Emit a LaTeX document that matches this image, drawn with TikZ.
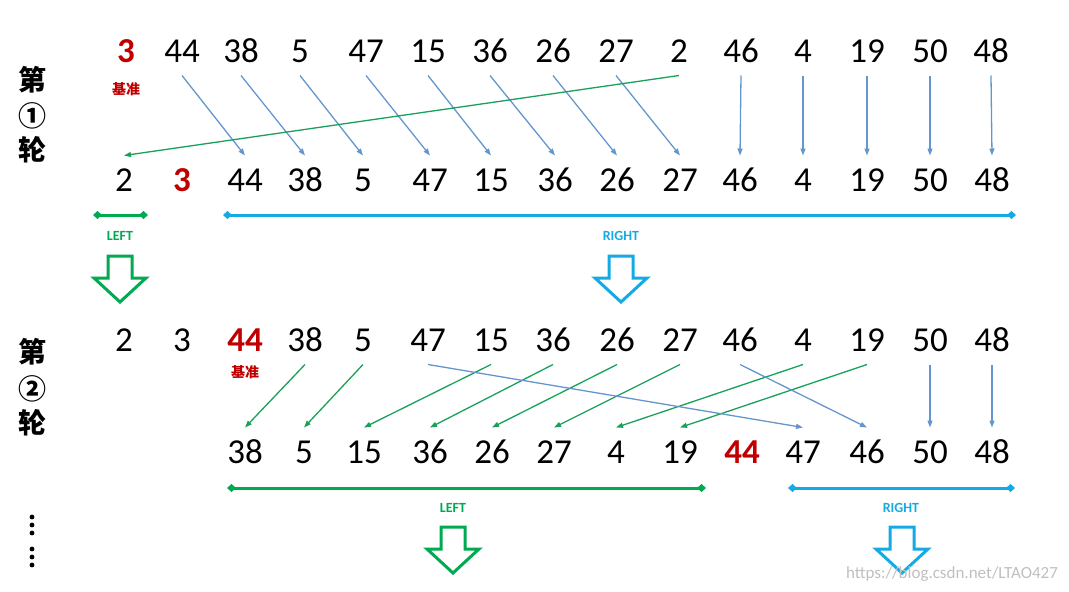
\documentclass[tikz,border=0pt]{standalone}
\usepackage{fontspec}
\setmainfont{Carlito}
\newfontfamily\cjk{Noto Sans CJK SC}
\usepackage{tikz}
\usetikzlibrary{arrows.meta}
\usetikzlibrary{positioning}
\definecolor{pivred}{RGB}{192,0,0}
\definecolor{lgreen}{RGB}{0,170,80}
\definecolor{rblue}{RGB}{20,170,230}
\definecolor{mblue}{RGB}{100,150,205}
\definecolor{mgreen}{RGB}{25,160,90}

\begin{document}
\begin{tikzpicture}[x=1pt, y=-1pt,
		n/.style = {inner sep=0pt, outer xsep=0pt, outer ysep=13pt, text height=23pt, text depth=0pt, font=\fontsize{35}{40}\selectfont},
		p/.style = {n, text=pivred, font=\fontsize{35}{40}\selectfont\bfseries},
		bl/.style = {-{Triangle[length=7pt, width=5pt]}, mblue, line width=1.3pt},
		gr/.style = {-{Triangle[length=7pt, width=5pt]}, mgreen, line width=1.3pt},
		br/.style = {{Diamond[length=9pt, width=8pt]}-{Diamond[length=9pt, width=8pt]}, line width=3pt},
		lab/.style = {font=\fontsize{14}{16}\selectfont\bfseries},
		ji/.style = {text=pivred, font=\cjk\fontsize{14}{16}\selectfont\bfseries},
		lun/.style = {font=\cjk\fontsize{28}{30}\selectfont\bfseries},
		bigdown/.pic = {\draw[line width=3pt, fill=white] (-12,0) -- (12,0) -- (12,22) -- (26,22) -- (0,46) -- (-26,22) -- (-12,22) -- cycle;},
		]
		\useasboundingbox (0,0) rectangle (1069,592);
		
		% round 1
		\node[lun]	(r1a)	at	(33,80)		{第};
		\node[lun]	(r1b)	at	(33,116)	{①};
		\node[lun]	(r1c)	at	(33,150)	{轮};
		
		\node[p]	(a1)	at	(126,51)	{3};
		\foreach \v/\x [count=\i from 2] in {44/182, 38/241, 5/300, 47/366, 15/428, 36/490, 26/553, 27/616, 2/679, 46/741, 4/803, 19/867, 50/930, 48/991}
			\node[n]	(a\i)	at	(\x,51)	{\v};
		\node[ji]	(j1)	at	(126,89)	{基准};
		
		\node[n]	(b1)	at	(124,180)	{2};
		\node[p]	(b2)	at	(182,180)	{3};
		\foreach \v/\x [count=\i from 3] in {44/245, 38/305, 5/363, 47/430, 15/491, 36/555, 26/617, 27/680, 46/740, 4/803, 19/867, 50/930, 48/992}
			\node[n]	(b\i)	at	(\x,180)	{\v};
		
		\foreach \i [evaluate=\i as \j using int(\i+1)] in {2,...,9}
			\draw[bl]	(a\i.south)	--	(b\j.north);
		\foreach \i in {11,...,15}
			\draw[bl]	(a\i.south)	--	(b\i.north);
		\draw[gr]	(a10.south)	--	(b1.north);
		
		\coordinate	(l1a)	at	(93,215);
		\coordinate	(l1b)	at	(148,215);
		\coordinate	(r1l)	at	(223,215);
		\coordinate	(r1r)	at	(1016,215);
		\draw[br, lgreen]	(l1a)	--	(l1b);
		\draw[br, rblue]	(r1l)	--	(r1r);
		\node[lab, lgreen]	(t1)	at	(120,236)	{LEFT};
		\node[lab, rblue]	(t2)	at	(621,236)	{RIGHT};
		\pic[color=lgreen]	at	(120,256)	{bigdown};
		\pic[color=rblue]	at	(621,256)	{bigdown};
		
		% round 2
		\node[lun]	(r2a)	at	(33,352)	{第};
		\node[lun]	(r2b)	at	(33,389)	{②};
		\node[lun]	(r2c)	at	(33,423)	{轮};
		
		\node[n]	(c1)	at	(124,340)	{2};
		\node[n]	(c2)	at	(182,340)	{3};
		\node[p]	(c3)	at	(245,340)	{44};
		\foreach \v/\x [count=\i from 4] in {38/305, 5/363, 47/428, 15/491, 36/553, 26/617, 27/680, 46/740, 4/803, 19/867, 50/930, 48/992}
			\node[n]	(c\i)	at	(\x,340)	{\v};
		\node[ji]	(j2)	at	(245,372)	{基准};
		
		\foreach \v/\x [count=\i] in {38/245, 5/304, 15/364, 36/430, 26/492, 27/554, 4/616, 19/680}
			\node[n]	(d\i)	at	(\x,452)	{\v};
		\node[p]	(d9)	at	(742,452)	{44};
		\foreach \v/\x [count=\i from 10] in {47/803, 46/867, 50/930, 48/992}
			\node[n]	(d\i)	at	(\x,452)	{\v};
		
		\foreach \s/\t in {4/1, 5/2, 7/3, 8/4, 9/5, 10/6, 12/7, 13/8}
			\draw[gr]	(c\s.south)	--	(d\t.north);
		\foreach \s/\t in {6/10, 11/11, 14/12, 15/13}
			\draw[bl]	(c\s.south)	--	(d\t.north);
		
		\coordinate	(l2a)	at	(227,488);
		\coordinate	(l2b)	at	(706,488);
		\coordinate	(r2l)	at	(788,488);
		\coordinate	(r2r)	at	(1015,488);
		\draw[br, lgreen]	(l2a)	--	(l2b);
		\draw[br, rblue]	(r2l)	--	(r2r);
		\node[lab, lgreen]	(t3)	at	(453,508)	{LEFT};
		\node[lab, rblue]	(t4)	at	(901,508)	{RIGHT};
		\pic[color=lgreen]	at	(453,527)	{bigdown};
		\pic[color=rblue]	at	(902,527)	{bigdown};
		
		% more rounds
		\foreach \y in {517,525,533,549,557,565}
			\fill	(32,\y)	circle	(2.4);
		
		\node[text=black!25, font=\fontsize{17}{19}\selectfont]	(wm)	at	(952,574)	{https://blog.csdn.net/LTAO427};
	\end{tikzpicture}
\end{document}
